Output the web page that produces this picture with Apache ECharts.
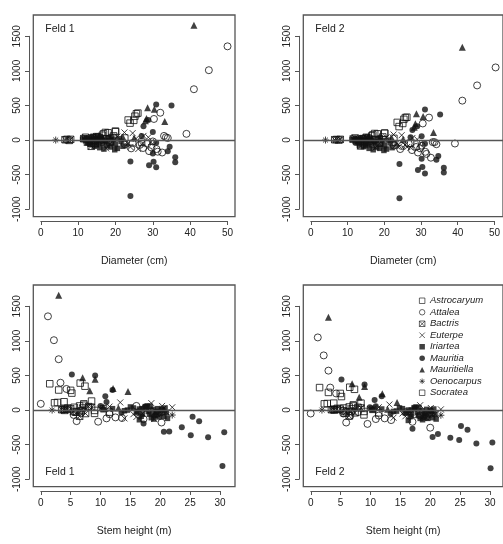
<!DOCTYPE html>
<html>
<head>
<meta charset="utf-8">
<script src="https://cdn.jsdelivr.net/npm/echarts@6/dist/echarts.min.js"></script>
<style>
  html, body { margin: 0; padding: 0; background: #fff; }
  #chart { width: 503px; height: 544px; }
</style>
</head>
<body>
<div id="chart"></div>
<script>
// one row per tree: [diameter (cm), stem height (m), residual Feld 1, residual Feld 2]
const astrocaryum = [
  [26.0, 6.6, 390, 330], [25.6, 1.5, 380, 325], [23.4, 3.0, 290, 255], [24.9, 5.0, 285, 240],
  [25.2, 7.4, 345, 300], [23.9, 5.2, 245, 195], [18.0, 2.3, 105, 90], [17.3, 2.8, 110, 95],
  [20.0, 3.9, 120, 100], [16.8, 7.2, 90, 75], [22.5, 4.5, 30, 25], [27.0, 5.8, -30, -45]
]
const attalea = [
  [50.0, 1.2, 1355, 1050], [45.0, 2.2, 1010, 790], [41.0, 3.0, 735, 570], [39.0, 0.0, 90, -50],
  [32.0, 3.3, 395, 325], [30.3, 4.3, 305, 240], [32.5, 20.2, -180, -255], [31.3, 9.6, -168, -200],
  [27.4, 13.6, -115, -145], [29.6, 12.5, -106, -120], [24.6, 6.7, -43, -85], [33.0, 16.0, 60, -30],
  [34.0, 17.5, 30, -60], [30.0, 18.5, -20, -80], [26.5, 5.5, -70, -50], [31.0, 17.2, -130, -170],
  [28.5, 19.5, -50, -100], [24.2, 11.0, -120, -130], [22.5, 11.5, -60, -80], [33.5, 8.0, 40, -30],
  [29.0, 6.0, -160, -180]
]
const bactris = [
  [6.5, 3.5, 5, 5], [7.0, 3.8, 10, 8], [7.6, 4.0, -5, 0], [8.0, 4.4, 10, 10],
  [11.5, 5.0, 20, 15], [12.5, 6.0, -30, -25], [13.5, 6.5, -90, -85], [14.0, 7.0, 30, 20],
  [14.6, 7.5, -50, -40], [15.0, 8.0, 50, 40], [13.0, 5.5, -20, -10], [12.0, 8.5, 40, 30],
  [15.5, 6.8, -10, -20], [16.0, 4.0, 15, 10]
]
const euterpe = [
  [22.4, 13.3, 110, 80], [24.6, 18.5, 100, 70], [27.5, 20.3, 60, 30], [28.8, 22.0, 40, 10],
  [26.1, 19.0, -130, -100], [23.3, 17.0, -50, -40], [25.5, 20.5, 20, -70], [27.0, 19.5, -60, -110],
  [20.5, 11.5, 50, 40], [19.0, 10.0, 20, 15], [29.5, 21.0, -30, -60], [24.0, 16.0, -100, -90],
  [17.5, 14.0, -120, -110], [18.5, 15.5, -60, -50]
]
const iriartea = [
  [11.2, 10.5, 10, 5], [11.8, 12.0, 20, 15], [12.0, 14.0, -10, -20], [12.3, 15.5, 30, 20],
  [12.6, 16.0, -40, -40], [13.0, 16.5, 15, 0], [13.2, 17.0, -60, -70], [13.5, 17.5, 40, 25],
  [13.8, 18.0, -20, -35], [14.0, 18.3, 55, 35], [14.3, 16.8, -90, -95], [14.6, 18.8, 10, -10],
  [14.9, 19.0, -70, -80], [15.2, 17.8, 60, 45], [15.5, 19.3, -30, -50], [15.8, 18.5, -110, -120],
  [16.2, 19.6, 20, 10], [16.5, 20.0, -50, -70], [16.9, 18.9, -130, -140], [17.3, 20.4, 0, -20],
  [17.8, 19.2, -80, -100], [18.2, 20.8, 30, 15], [18.6, 19.8, -100, -120], [19.0, 21.0, -40, -60],
  [19.5, 20.2, 10, -5], [20.0, 18.2, -60, -80], [20.5, 21.2, -120, -130], [21.0, 17.0, 20, 0],
  [21.5, 19.5, -20, -40], [22.0, 20.6, -90, -110], [16.0, 15.0, 45, 30], [17.5, 16.2, -20, -30],
  [18.8, 17.5, 50, 35], [19.8, 16.5, -140, -150], [15.0, 14.5, 0, -15]
]
const mauritia = [
  [24.0, 30.4, -808, -840], [30.9, 28.0, -394, -485], [29.0, 25.1, -365, -433], [36.0, 30.7, -320, -468],
  [30.2, 20.6, -313, -390], [24.0, 21.5, -310, -345], [36.0, 23.6, -250, -400], [30.0, 17.2, -195, -270],
  [34.0, 26.5, -160, -285], [34.5, 25.4, -95, -230], [30.9, 5.2, 515, 442], [35.0, 9.1, 500, 370],
  [27.5, 10.8, 200, 145], [30.0, 11.0, 115, 55], [28.8, 12.0, 290, 200], [30.9, 13.5, -40, -55],
  [27.0, 10.0, 60, 40]
]
const mauritiella = [
  [41.0, 3.0, 1660, 1340], [28.6, 7.0, 466, 380], [30.4, 9.1, 445, 340], [28.3, 12.1, 310, 235],
  [33.2, 14.6, 268, 108], [28.0, 8.2, 278, 185], [22.0, 10.5, 40, 20], [25.0, 13.0, 30, 10]
]
const oenocarpus = [
  [4.0, 1.9, 0, 0], [23.0, 22.0, -72, -75], [17.0, 20.6, -20, -30]
]
const socratea = [
  [13.5, 9.0, -48, -70], [14.5, 9.0, -5, -20], [15.5, 5.6, 40, 30], [16.5, 7.2, 70, 60],
  [17.5, 10.5, 20, 10], [18.5, 11.5, -30, -40], [19.5, 6.5, 60, 45], [20.0, 8.5, 130, 100]
]

const diameterTicks = [0, 10, 20, 30, 40, 50]
const heightTicks = [0, 5, 10, 15, 20, 25, 30]
const residualTicks = [-1000, -500, 0, 500, 1000, 1500]

const FONT = 'Liberation Sans'
const INK = '#111'
const AXIS = '#555'
const TEXT = '#222'

const openStyle = { color: 'rgba(0,0,0,0)', borderColor: INK, borderWidth: 1 }
const fillStyle = { color: INK }

const species = [
  { name: 'Astrocaryum', trees: astrocaryum, symbol: 'rect', size: 6.5, style: openStyle },
  { name: 'Attalea', trees: attalea, symbol: 'circle', size: 7, style: openStyle },
  { name: 'Bactris', trees: bactris, symbol: 'path://M0,0L10,0L10,10L0,10ZM0,0L10,10M10,0L0,10', size: 6.5, style: openStyle },
  { name: 'Euterpe', trees: euterpe, symbol: 'path://M0,0L10,10M10,0L0,10', size: 6, style: openStyle },
  { name: 'Iriartea', trees: iriartea, symbol: 'rect', size: 5.5, style: fillStyle },
  { name: 'Mauritia', trees: mauritia, symbol: 'circle', size: 6, style: fillStyle },
  { name: 'Mauritiella', trees: mauritiella, symbol: 'triangle', size: 7, style: fillStyle },
  { name: 'Oenocarpus', trees: oenocarpus, symbol: 'path://M5,0L5,10M0,5L10,5M1.5,1.5L8.5,8.5M8.5,1.5L1.5,8.5', size: 7, style: openStyle },
  { name: 'Socratea', trees: socratea, symbol: 'rect', size: 6.5, style: openStyle }
]

// panel layout (box top-left corner in px)
const SIDE = 201.7
const resRange = [-1108, 1808]
const panels = [
  { box: [33.3, 15], xCol: 0, rCol: 2, ticks: diameterTicks, xRange: [-2, 52], xName: 'Diameter (cm)', label: 'Feld 1', labelAt: 'top' },
  { box: [303.3, 15], xCol: 0, rCol: 3, ticks: diameterTicks, xRange: [-2, 52], xName: 'Diameter (cm)', label: 'Feld 2', labelAt: 'top' },
  { box: [33.3, 285], xCol: 1, rCol: 2, ticks: heightTicks, xRange: [-1.25, 32.5], xName: 'Stem height (m)', label: 'Feld 1', labelAt: 'bottom' },
  { box: [303.3, 285], xCol: 1, rCol: 3, ticks: heightTicks, xRange: [-1.25, 32.5], xName: 'Stem height (m)', label: 'Feld 2', labelAt: 'bottom' }
]

const grids = []
const xAxes = []
const yAxes = []
const series = []
const titles = []

const tickText = { fontFamily: FONT, fontSize: 10, color: TEXT, formatter: v => String(v) }

panels.forEach(p => {
  const [L, T] = p.box
  const [x0, x1] = p.xRange
  const [y0, y1] = resRange
  const px = v => L + (v - x0) / (x1 - x0) * SIDE
  const py = v => T + (y1 - v) / (y1 - y0) * SIDE

  // plot box with the data
  const main = grids.length
  grids.push({ left: L, top: T, width: SIDE, height: SIDE, show: true, borderColor: AXIS, borderWidth: 1.3, backgroundColor: 'transparent' })
  xAxes.push({
    gridIndex: main, type: 'value', min: x0, max: x1,
    name: p.xName, nameLocation: 'middle', nameGap: 39,
    nameTextStyle: { fontFamily: FONT, fontSize: 10.5, color: TEXT },
    axisLine: { show: false }, axisTick: { show: false }, axisLabel: { show: false }, splitLine: { show: false }
  })
  yAxes.push({ gridIndex: main, type: 'value', min: y0, max: y1, show: false })

  // x axis, line only between first and last tick
  const tx0 = p.ticks[0]
  const tx1 = p.ticks[p.ticks.length - 1]
  const gx = grids.length
  grids.push({ left: px(tx0), top: T + SIDE + 3.3, width: px(tx1) - px(tx0), height: 1 })
  xAxes.push({
    gridIndex: gx, type: 'value', min: tx0, max: tx1, interval: p.ticks[1] - p.ticks[0],
    axisLine: { lineStyle: { color: AXIS, width: 1 } },
    axisTick: { length: 4, lineStyle: { color: AXIS } },
    axisLabel: Object.assign({ margin: 7 }, tickText),
    splitLine: { show: false }
  })
  yAxes.push({ gridIndex: gx, type: 'value', show: false })

  // y axis
  const ty0 = residualTicks[0]
  const ty1 = residualTicks[residualTicks.length - 1]
  const gy = grids.length
  grids.push({ left: L - 4.3, top: py(ty1), width: 1, height: py(ty0) - py(ty1) })
  yAxes.push({
    gridIndex: gy, type: 'value', min: ty0, max: ty1, interval: residualTicks[1] - residualTicks[0],
    axisLine: { lineStyle: { color: AXIS, width: 1 } },
    axisTick: { length: 4, lineStyle: { color: AXIS } },
    axisLabel: Object.assign({ margin: 7, rotate: 90 }, tickText),
    splitLine: { show: false }
  })
  xAxes.push({ gridIndex: gy, type: 'value', show: false })

  species.forEach((sp, k) => {
    const s = {
      type: 'scatter', name: sp.name,
      xAxisIndex: main, yAxisIndex: main,
      symbol: sp.symbol, symbolSize: sp.size,
      itemStyle: sp.style,
      emphasis: { disabled: true },
      data: sp.trees.map(t => [t[p.xCol], t[p.rCol]])
    }
    if (k === 0) {
      s.markLine = {
        silent: true, symbol: ['none', 'none'], label: { show: false },
        lineStyle: { color: AXIS, width: 1.3, type: 'solid' },
        data: [{ yAxis: 0 }]
      }
    }
    series.push(s)
  })

  titles.push({
    text: p.label, left: L + 12, top: p.labelAt === 'top' ? T + 9 : T + SIDE - 20, padding: 0,
    textStyle: { fontFamily: FONT, fontSize: 10.5, fontWeight: 'normal', color: TEXT }
  })
})

const chart = echarts.init(document.getElementById('chart'))
chart.setOption({
  animation: false,
  backgroundColor: '#fff',
  title: titles,
  legend: {
    data: species.map(s => s.name),
    orient: 'vertical', left: 419, top: 295, padding: 0,
    itemWidth: 5.5, itemHeight: 5.5, itemGap: 0,
    selectedMode: false,
    itemStyle: { borderWidth: 0.8 },
    textStyle: { fontFamily: FONT, fontStyle: 'italic', fontSize: 9.5, color: TEXT, lineHeight: 11.5 }
  },
  grid: grids,
  xAxis: xAxes,
  yAxis: yAxes,
  series: series
})
</script>
</body>
</html>
